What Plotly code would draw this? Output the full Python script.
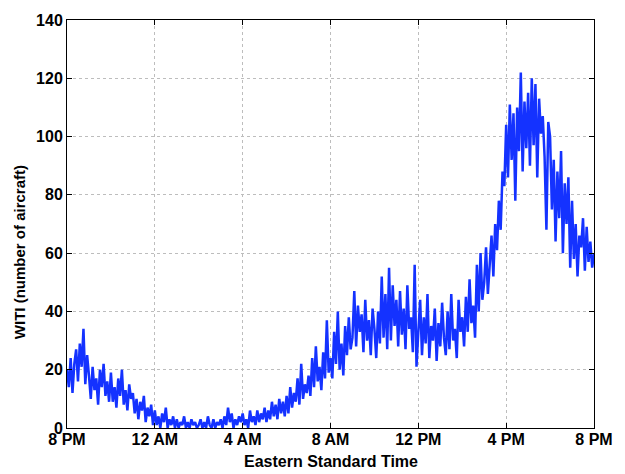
import plotly.graph_objects as go

# WITI values sampled every 5 minutes starting at 8 PM (one row per hour)
witi_by_hour = [
    [20, 14, 24, 12, 22, 27, 16, 29, 21, 34, 15, 25],
    [18, 10, 21, 13, 17, 8, 20, 14, 22, 11, 16, 9],
    [19, 9, 14, 7, 17, 11, 20, 8, 13, 6, 15, 10],
    [12, 5, 10, 3, 9, 6, 11, 2, 7, 4, 8, 1],
    [6, 1, 4, 0, 5, 2, 7, 0, 3, 1, 4, 0],
    [3, 0, 2, 1, 4, 0, 2, 0, 3, 1, 2, 0],
    [1, 3, 0, 2, 0, 4, 1, 0, 3, 0, 2, 1],
    [3, 0, 4, 1, 7, 2, 5, 0, 3, 1, 4, 2],
    [5, 1, 3, 0, 6, 2, 4, 1, 6, 2, 5, 3],
    [7, 2, 6, 3, 9, 4, 8, 3, 10, 5, 9, 4],
    [11, 5, 14, 7, 12, 9, 17, 8, 22, 10, 15, 12],
    [18, 11, 24, 14, 28, 16, 21, 13, 26, 17, 37, 19],
    [24, 17, 33, 22, 40, 20, 29, 18, 35, 25, 38, 27],
    [31, 47, 28, 42, 33, 39, 26, 44, 30, 37, 25, 41],
    [34, 24, 40, 29, 52, 31, 46, 27, 55, 30, 49, 35],
    [44, 28, 47, 32, 41, 27, 49, 34, 38, 26, 56, 21],
    [33, 44, 25, 38, 29, 46, 24, 35, 30, 41, 23, 36],
    [28, 43, 31, 25, 40, 27, 46, 30, 34, 24, 44, 33],
    [38, 28, 45, 33, 51, 36, 42, 31, 56, 40, 60, 44],
    [50, 62, 46, 58, 66, 52, 70, 61, 78, 68, 88, 83],
    [104, 86, 111, 92, 108, 78, 110, 95, 122, 88, 112, 96],
    [115, 90, 120, 97, 118, 86, 113, 101, 107, 93, 68, 105],
    [100, 75, 92, 64, 88, 72, 95, 60, 84, 70, 86, 55],
    [78, 58, 70, 52, 66, 62, 72, 54, 69, 57, 64, 55],
]
witi_final = [60]

tick_hours = [0, 4, 8, 12, 16, 20, 24]
tick_labels = ["8 PM", "12 AM", "4 AM", "8 AM", "12 PM", "4 PM", "8 PM"]
y_ticks = [0, 20, 40, 60, 80, 100, 120, 140]

witi = [v for row in witi_by_hour for v in row] + witi_final
hours = [i * 5 / 60 for i in range(len(witi))]

fig = go.Figure()
fig.add_trace(go.Scatter(
    x=hours, y=witi, mode="lines",
    line=dict(color="rgb(20,50,255)", width=2.5),
    showlegend=False,
))

font_family = "Liberation Sans, Arial, sans-serif"
fig.update_layout(
    width=625, height=474,
    margin=dict(l=67, r=22, t=14, b=46),
    paper_bgcolor="white", plot_bgcolor="white",
    font=dict(family=font_family, color="black"),
)
fig.update_xaxes(
    range=[0, 24], tickvals=tick_hours, ticktext=tick_labels,
    showline=True, linecolor="black", linewidth=1, mirror="ticks",
    ticks="inside", ticklen=5, tickcolor="black",
    showgrid=True, gridcolor="#bdbdbd", griddash="dot", gridwidth=1,
    zeroline=False, ticklabelstandoff=-3,
    tickfont=dict(size=16, family=font_family, weight="bold"),
)
fig.update_yaxes(
    range=[0, 140], tickvals=y_ticks,
    showline=True, linecolor="black", linewidth=1, mirror="ticks",
    ticks="inside", ticklen=5, tickcolor="black",
    showgrid=True, gridcolor="#bdbdbd", griddash="dot", gridwidth=1,
    zeroline=False,
    tickfont=dict(size=16, family=font_family, weight="bold"),
)
fig.add_annotation(
    text="WITI (number of aircraft)", textangle=-90,
    xref="paper", yref="paper", x=-0.09, y=0.43,
    xanchor="center", yanchor="middle", showarrow=False,
    font=dict(size=15, family=font_family, weight="bold"),
)
fig.add_annotation(
    text="Eastern Standard Time",
    xref="paper", yref="paper", x=0.5, y=-0.082,
    xanchor="center", yanchor="middle", showarrow=False,
    font=dict(size=16, family=font_family, weight="bold"),
)

fig.write_html(
    "out.html",
    config={"displayModeBar": False},
    post_script="document.body.style.margin='0';document.body.style.overflow='hidden';",
)
